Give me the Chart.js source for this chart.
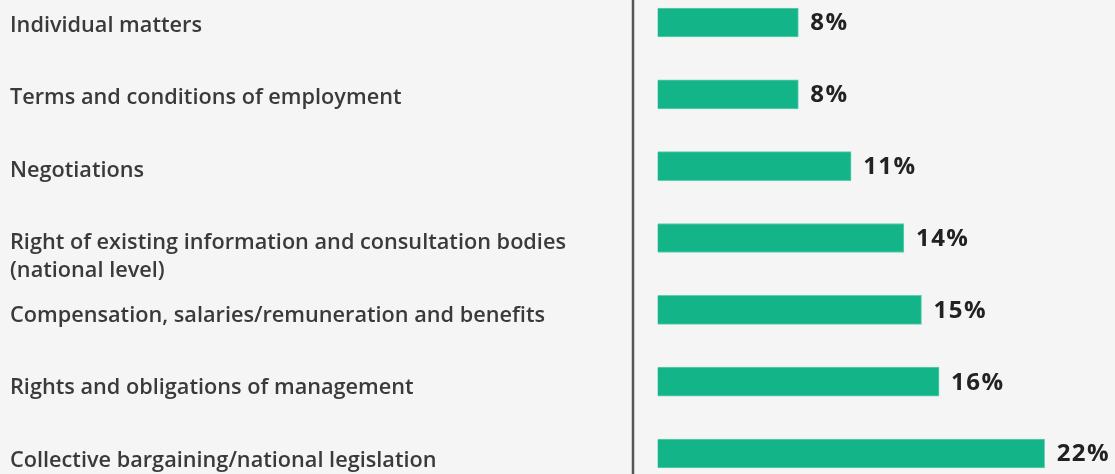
<!DOCTYPE html>
<html>
<head>
<meta charset="utf-8">
<script src="https://cdn.jsdelivr.net/npm/chart.js@4"></script>
<style>
  html, body { margin: 0; padding: 0; background: #f5f5f5; }
  #chart { display: block; }
</style>
</head>
<body>
<canvas id="chart" width="1115" height="474"></canvas>
<script>
const categories = [
    'Individual matters',
    'Terms and conditions of employment',
    'Negotiations',
    ['Right of existing information and consultation bodies', '(national level)'],
    'Compensation, salaries/remuneration and benefits',
    'Rights and obligations of management',
    'Collective bargaining/national legislation'
];
const shares = [8, 8, 11, 14, 15, 16, 22];

const barColor = '#14b489';
const labelFont = '600 21.7px "Open Sans", "Noto Sans", sans-serif';
const valueFont = '700 24px "Open Sans", "Noto Sans", sans-serif';

// vertical axis line running the full height of the canvas
const axisLine = {
    id: 'axisLine',
    beforeDatasetsDraw(chart) {
        const ctx = chart.ctx;
        ctx.save();
        ctx.strokeStyle = '#555';
        ctx.lineWidth = 2.5;
        ctx.beginPath();
        ctx.moveTo(chart.chartArea.left, 0);
        ctx.lineTo(chart.chartArea.left, chart.height);
        ctx.stroke();
        ctx.restore();
    }
};

// draws the category names on the left, first line level with the bar
const categoryLabels = {
    id: 'categoryLabels',
    afterDraw(chart) {
        const ctx = chart.ctx;
        const yScale = chart.scales.y;
        ctx.save();
        ctx.font = labelFont;
        ctx.fillStyle = '#3a3a3a';
        ctx.textAlign = 'left';
        ctx.textBaseline = 'alphabetic';
        categories.forEach((label, i) => {
            const lines = Array.isArray(label) ? label : [label];
            const y = yScale.getPixelForValue(i) + 9 + i * 0.7;
            lines.forEach((line, k) => ctx.fillText(line, 10, y + k * 27.5));
        });
        ctx.restore();
    }
};

// percentage to the right of each bar
const valueLabels = {
    id: 'valueLabels',
    afterDatasetsDraw(chart) {
        const ctx = chart.ctx;
        const meta = chart.getDatasetMeta(0);
        ctx.save();
        ctx.font = valueFont;
        ctx.fillStyle = '#222';
        ctx.letterSpacing = '1.5px';
        ctx.textAlign = 'left';
        ctx.textBaseline = 'middle';
        meta.data.forEach((bar, i) => {
            ctx.fillText(shares[i] + '%', bar.x + 12, bar.y + 1);
        });
        ctx.restore();
    }
};

new Chart(document.getElementById('chart'), {
    type: 'bar',
    data: {
        labels: categories,
        datasets: [{
            data: shares,
            backgroundColor: barColor,
            borderColor: '#5fd0ae',
            borderWidth: 1,
            barThickness: 29,
            clip: false
        }]
    },
    options: {
        indexAxis: 'y',
        responsive: false,
        animation: false,
        layout: { padding: { left: 625, right: 0, top: 22.5, bottom: 20.5 } },
        plugins: {
            legend: { display: false },
            tooltip: { enabled: false }
        },
        scales: {
            x: {
                display: false,
                min: -1.4,
                max: 26
            },
            y: {
                offset: false,
                ticks: { display: false },
                grid: { display: false },
                border: { display: false }
            }
        }
    },
    plugins: [axisLine, categoryLabels, valueLabels]
});
</script>
</body>
</html>
